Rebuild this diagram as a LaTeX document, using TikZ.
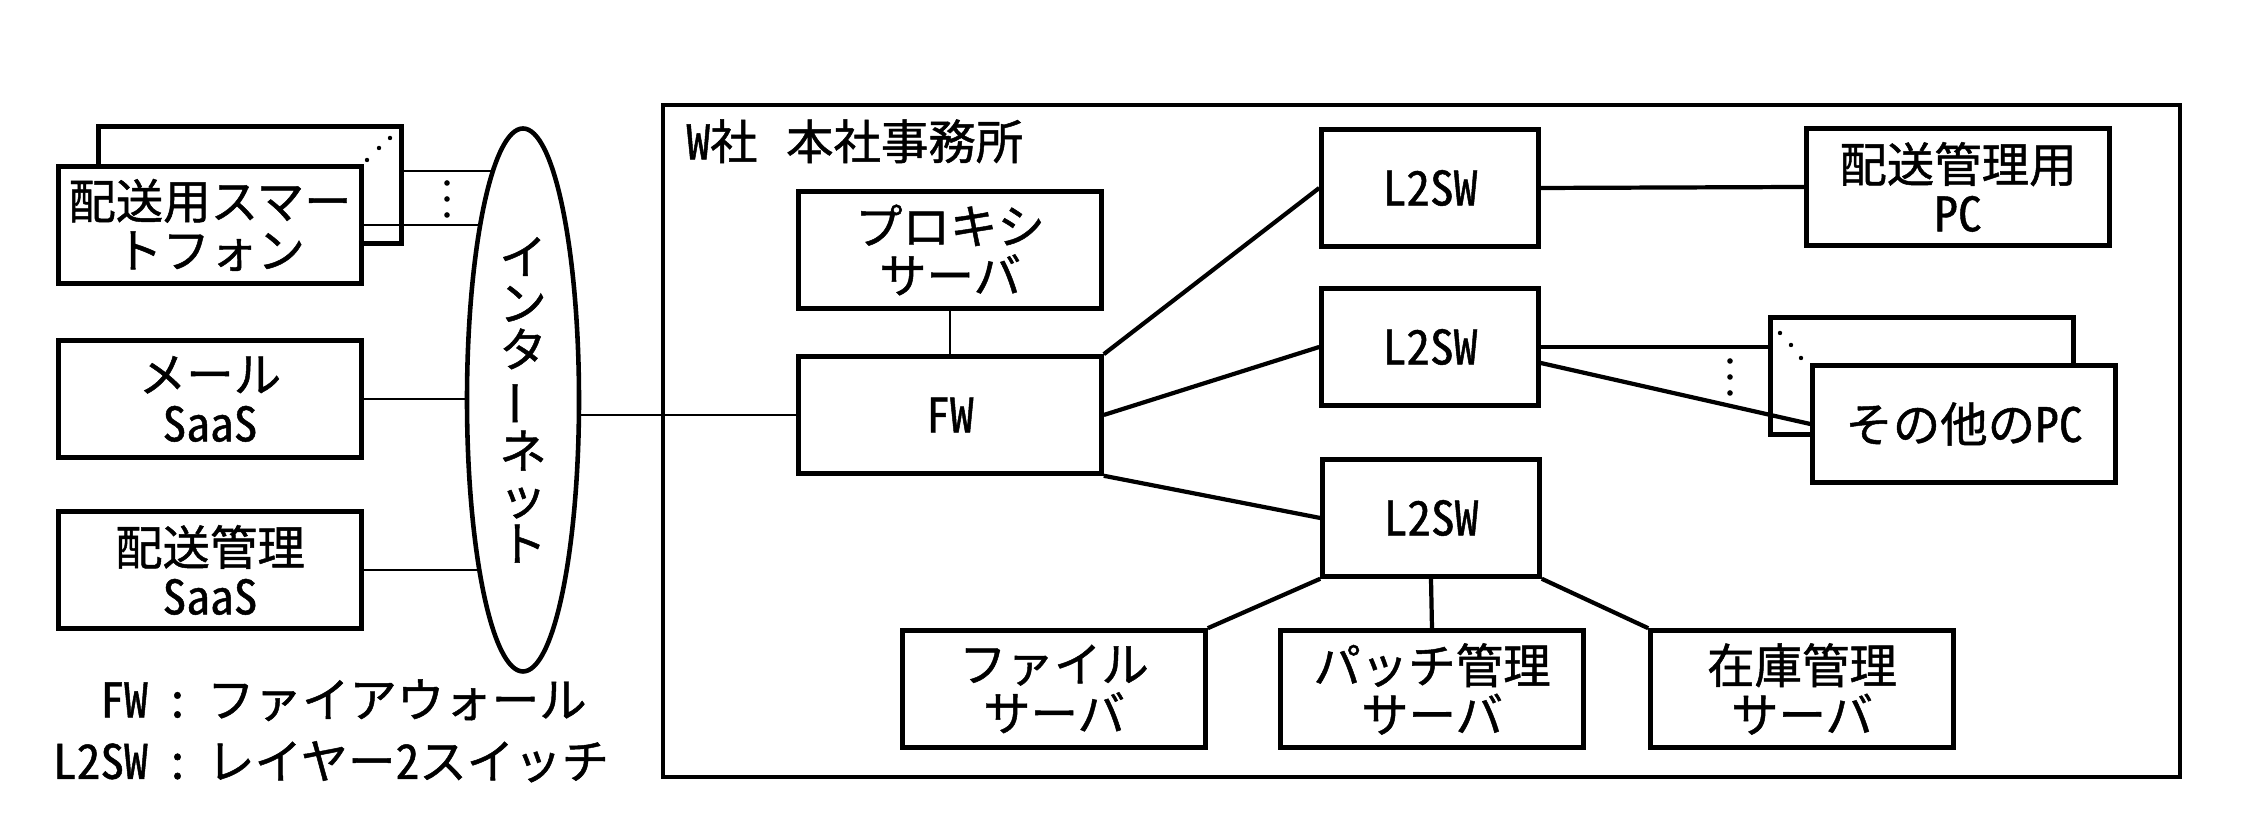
\documentclass[tikz,border=0pt]{standalone}
\usepackage{fontspec}
\setmainfont{Noto Sans CJK JP}[RawFeature={+hwid;embolden=1}]
\usepackage{graphicx}
\usepackage{tikz}
\usetikzlibrary{shapes.geometric,backgrounds}

\begin{document}
\begin{tikzpicture}[
  every node/.style={font=\fontsize{13.5}{14}\selectfont},
  dev/.style={draw, line width=1.3pt, fill=white, align=center,
    minimum width=3.03cm, minimum height=1.17cm, inner sep=0pt},
  devsw/.style={dev, minimum width=2.17cm},
  devback/.style={dev, fill=none},
  link/.style={line width=1.2pt},
  linkthin/.style={line width=0.8pt},
]
  \useasboundingbox (0,0) rectangle (22.56,-8.24);
  % ---- Internet side (left) ----
  \node[devback] (spb) at (2.50,-1.85) {};
  \node[dev] (sp) at (2.10,-2.25) {配送用スマー\\トフォン};
  \node[dev] (mail) at (2.10,-3.99) {メール\\SaaS};
  \node[dev] (dsaas) at (2.10,-5.70) {配送管理\\SaaS};
  \node[draw, ellipse, line width=1.3pt, fill=white, align=center,
    minimum width=1.12cm, minimum height=5.43cm, inner sep=0pt,
    font=\fontsize{13.5}{13.2}\selectfont] (net) at (5.23,-4.00)
    {イ\\ン\\タ\\\rotatebox[origin=c]{90}{ー}\\ネ\\ッ\\ト};
  \node[font=\fontsize{13.5}{15}\selectfont] (lgd) at (3.31,-7.37)
    {\begin{tabular}{@{}r@{\makebox[1.25em]{:}}l@{}}
       FW & ファイアウォール\\[0.08cm]
       L2SW & レイヤー2スイッチ
     \end{tabular}};
  % ---- W社 (right) ----
  \node[draw, line width=1.3pt, minimum width=15.17cm, minimum height=6.72cm,
    inner sep=0pt] (hq) at (14.215,-4.41) {};
  \node[anchor=north west, inner sep=0pt] (hqlbl)
    at ([xshift=0.25cm,yshift=-0.16cm]hq.north west) {W社\hspace{0.6em}本社事務所};
  \node[dev] (px) at (9.50,-2.50) {プロキシ\\サーバ};
  \node[dev] (fw) at (9.50,-4.15) {FW};
  \node[devsw] (sw1) at (14.30,-1.88) {L2SW};
  \node[devsw] (sw2) at (14.30,-3.47) {L2SW};
  \node[devsw] (sw3) at (14.31,-5.18) {L2SW};
  \node[dev] (dpc) at (19.58,-1.87) {配送管理用\\PC};
  \node[devback] (pcb) at (19.22,-3.76) {};
  \node[dev] (pc) at (19.64,-4.24) {その他のPC};
  \node[dev] (fs) at (10.54,-6.89) {ファイル\\サーバ};
  \node[dev] (ps) at (14.32,-6.89) {パッチ管理\\サーバ};
  \node[dev] (zs) at (18.02,-6.89) {在庫管理\\サーバ};
  % ---- Links ----
  \begin{scope}[on background layer]
    \draw[linkthin] ([yshift=0.14cm]spb.east) -- ([yshift=0.14cm]spb.east -| net.center);
    \draw[linkthin] (sp.east) -- (sp.east -| net.center);
    \draw[linkthin] (mail.east) -- (mail.east -| net.center);
    \draw[linkthin] (dsaas.east) -- (dsaas.east -| net.center);
    \draw[linkthin] (fw.west -| net.center) -- (fw.west);
  \end{scope}
  \draw[linkthin] (px.south) -- (fw.north);
  \draw[link] (fw.north east) -- (sw1.west);
  \draw[link] (fw.east) -- (sw2.west);
  \draw[link] (fw.south east) -- (sw3.west);
  \draw[link] (sw1.east) -- (dpc.west);
  \draw[link] (sw2.east) -- (sw2.east -| pcb.west);
  \draw[link] ([yshift=-0.16cm]sw2.east) -- (pc.west);
  \draw[link] (sw3.south west) -- (fs.north east);
  \draw[link] (sw3.south) -- (ps.north);
  \draw[link] (sw3.south east) -- (zs.north west);
  % dots for "more devices"
  \foreach \yy in {1.83,1.99,2.15} \fill (4.47,-\yy) circle (0.028);
  \fill (3.90,-1.38) circle (0.022) (3.79,-1.48) circle (0.022) (3.67,-1.60) circle (0.022);
  \foreach \yy in {3.61,3.77,3.93} \fill (17.30,-\yy) circle (0.028);
  \fill (17.80,-3.33) circle (0.022) (17.91,-3.45) circle (0.022) (18.01,-3.58) circle (0.022);
\end{tikzpicture}
\end{document}
